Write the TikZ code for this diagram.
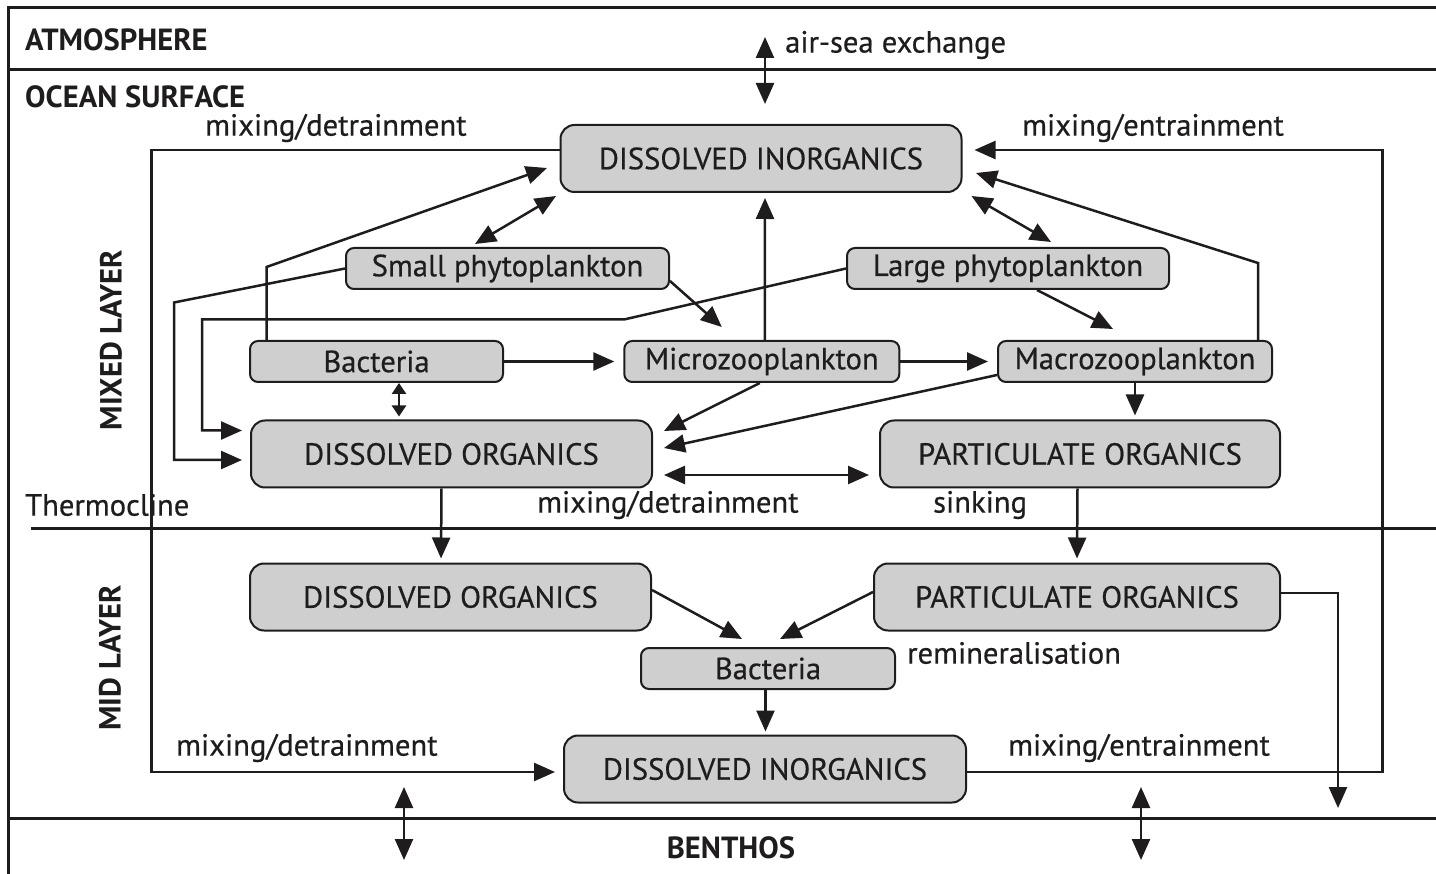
\documentclass[tikz,border=0pt]{standalone}
\usepackage{fontspec}
\setmainfont{PT Sans}[UprightFeatures={FakeBold=0.5}]
\usetikzlibrary{arrows.meta}
\definecolor{boxgray}{RGB}{207,207,207}
\definecolor{ink}{RGB}{30,28,28}
\begin{document}
\begin{tikzpicture}[x=1pt,y=-1pt,
  >={Triangle[length=21pt,width=18pt]},
  every node/.style={text=ink},
  txt/.style={font=\fontsize{30.6}{34}\selectfont, inner sep=0pt},
  bold/.style={font=\fontsize{30.6}{34}\selectfont\bfseries, inner sep=0pt},
  box/.style={draw=ink, fill=boxgray, line width=2pt, inner sep=0pt, font=\fontsize{30.6}{34}\selectfont},
  bigbox/.style={box, rounded corners=14pt, minimum height=67pt},
  smallbox/.style={box, rounded corners=8pt, minimum height=41pt},
  conn/.style={draw=ink, line width=2.5pt},
  frame/.style={draw=ink, line width=3pt},
  smallhead/.style={{Triangle[length=11pt,width=14pt]}-{Triangle[length=11pt,width=14pt]}}
]
\useasboundingbox (0,0) rectangle (1436,874);
% frame and layer lines
\draw[frame] (1436,7.5) -- (8.5,7.5) -- (8.5,874);
\draw[frame] (8.5,70) -- (1436,70);
\draw[frame] (31,528.5) -- (1436,528.5);
\draw[frame] (8.5,818) -- (1436,818);

% boxes
\node[bigbox, minimum width=401pt] (DItop) at (761,158.5) {DISSOLVED INORGANICS};
\node[smallbox, minimum width=323pt] (SP) at (507.5,268.5) {Small phytoplankton};
\node[smallbox, minimum width=322pt] (LP) at (1008,268.5) {Large phytoplankton};
\node[smallbox, minimum width=253pt] (BA) at (376.5,361.5) {Bacteria};
\node[smallbox, minimum width=275pt] (MZ) at (761.8,361.5) {Microzooplankton};
\node[smallbox, minimum width=274pt] (MAZ) at (1135,361.5) {Macrozooplankton};
\node[bigbox, minimum width=401pt] (DOm) at (451.5,454) {DISSOLVED ORGANICS};
\node[bigbox, minimum width=400pt] (POm) at (1080,454) {PARTICULATE ORGANICS};
\node[bigbox, minimum width=401pt] (DOmid) at (450.5,597) {DISSOLVED ORGANICS};
\node[bigbox, minimum width=406pt] (POmid) at (1077,597) {PARTICULATE ORGANICS};
\node[smallbox, minimum width=254pt] (Bmid) at (768,668.5) {Bacteria};
\node[bigbox, minimum width=402pt] (DIbot) at (765,769) {DISSOLVED INORGANICS};

% labels
\node[bold, anchor=west] (atm) at (25,40) {ATMOSPHERE};
\node[bold, anchor=west] (ocean) at (25,97) {OCEAN SURFACE};
\node[txt, anchor=west] (airsea) at (785,45) {air-sea exchange};
\node[txt, anchor=west] (mixdet1) at (205,128) {mixing/detrainment};
\node[txt, anchor=west] (mixent1) at (1022,128) {mixing/entrainment};
\node[txt, anchor=west] (thermo) at (25,505) {Thermocline};
\node[txt, anchor=west] (mixdet2) at (537,505) {mixing/detrainment};
\node[txt, anchor=west] (sink) at (933,505) {sinking};
\node[txt, anchor=west] (remin) at (907,653) {remineralisation};
\node[txt, anchor=west] (mixdet3) at (176,748) {mixing/detrainment};
\node[txt, anchor=west] (mixent3) at (1008,748) {mixing/entrainment};
\node[bold] (benthos) at (731,848) {BENTHOS};
\node[bold, rotate=90] (mixed) at (111,340) {MIXED LAYER};
\node[bold, rotate=90] (mid) at (110,658) {MID LAYER};

% air-sea exchange
\coordinate (airtop) at (765,37);
\draw[conn,<->] (airtop) -- ([xshift=4pt,yshift=20pt]DItop.north);

% outer loops
\coordinate (Lx) at (151.5,0);
\coordinate (Rx) at (1382.5,0);
\coordinate (dibw) at ([yshift=-3pt]DIbot.west);
\coordinate (dibe) at ([yshift=-3pt]DIbot.east);
\coordinate (ditw) at ([yshift=8.5pt]DItop.west);
\coordinate (dite) at ([yshift=8.5pt]DItop.east);
\draw[conn,->] (ditw) -| (Lx |- dibw) -- ([xshift=-8pt]dibw);
\draw[conn,->] (dibe) -| (Rx |- dite) -- ([xshift=12pt]dite);

% mixed layer
\draw[conn,->] ([xshift=17.5pt]BA.north west) -- ++(0,-73) -- ([xshift=-12.5pt,yshift=-9.5pt]DItop.west);
\draw[conn,<->] ([xshift=-32.5pt,yshift=3pt]SP.north) -- ([xshift=-3.5pt,yshift=-3pt]DItop.south west);
\draw[conn,->] (SP.west) -- (174,302.5) |- ([xshift=-8pt,yshift=-6pt]DOm.west);
\draw[conn,->] (LP.west) -- (624,319.5) -- (202,319.5) |- ([xshift=-8pt,yshift=23.5pt]DOm.west);
\draw[conn,->] ([yshift=-12.5pt]SP.east) -- ([xshift=-40pt,yshift=13pt]MZ.north);
\draw[conn,->] ([xshift=29pt]LP.south) -- ([xshift=-22pt,yshift=11pt]MAZ.north);
\draw[conn,<->] ([xshift=9pt,yshift=-3pt]DItop.south east) -- ([xshift=43pt,yshift=5pt]LP.north);
\draw[conn,->] ([xshift=-15pt]MAZ.north east) -- ++(0,-77) -- ([xshift=13.5pt,yshift=-14.5pt]DItop.east);
\draw[conn,->] ([xshift=3pt]MZ.north) -- ([xshift=4pt,yshift=-5pt]DItop.south);
\draw[conn,->] (BA.east) -- ([xshift=-9pt]MZ.west);
\draw[conn,->] (MZ.east) -- ([xshift=-9pt]MAZ.west);
\draw[conn,smallhead] ([xshift=22.5pt]BA.south) -- ([xshift=-52.5pt,yshift=3pt]DOm.north);
\draw[conn,->] ([xshift=-2pt]MZ.south) -- ([xshift=11pt,yshift=23pt]DOm.east);
\draw[conn,->] ([yshift=-13.5pt]MAZ.west) -- ([xshift=11pt,yshift=6pt]DOm.east);
\draw[conn,<->] ([xshift=11pt,yshift=-21pt]DOm.east) -- ([xshift=-10pt,yshift=-21pt]POm.west);
\draw[conn,->] (MAZ.south) -- ([yshift=4pt]MAZ.south |- POm.north);

% to mid layer
\draw[conn,->] ([xshift=-10pt]DOm.south) -- ([xshift=-9.5pt,yshift=4pt]DOmid.north);
\draw[conn,->] ([xshift=-2.5pt]POm.south) -- ([xshift=0pt,yshift=4pt]POmid.north);
\draw[conn,->] ([yshift=7pt]DOmid.east) -- ([xshift=-26pt,yshift=8pt]Bmid.north);
\draw[conn,->] ([yshift=5pt]POmid.west) -- ([xshift=12pt,yshift=8pt]Bmid.north);
\draw[conn,->] ([xshift=-2.5pt]Bmid.south) -- ([xshift=0.5pt,yshift=3pt]DIbot.north);
\coordinate (podown) at (1338,808);
\draw[conn,->] ([yshift=4pt]POmid.east) -| (podown);

% benthos exchange
\coordinate (b1t) at (404,787);
\coordinate (b1b) at (404,860);
\coordinate (b2t) at (1141,787);
\coordinate (b2b) at (1141,860);
\draw[conn,<->] (b1t) -- (b1b);
\draw[conn,<->] (b2t) -- (b2b);
\end{tikzpicture}
\end{document}
